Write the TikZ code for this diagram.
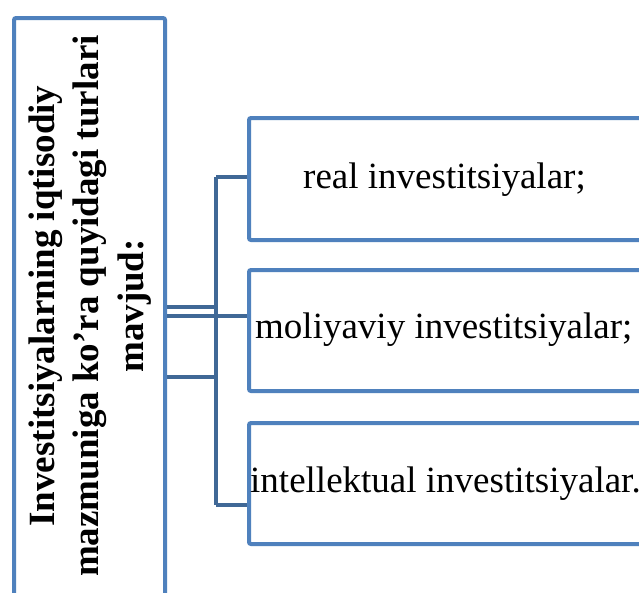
\documentclass[tikz,border=0pt]{standalone}
\usepackage{fontspec}
\setmainfont{Liberation Serif}
\definecolor{boxblue}{RGB}{79,129,189}
\definecolor{linkblue}{RGB}{64,104,150}
\tikzset{
  frame/.style={draw=boxblue, line width=4pt, rounded corners=2pt, fill=white, inner sep=0pt},
  link/.style={draw=linkblue, line width=4pt},
  title/.style={font=\fontsize{37}{44.5}\selectfont\bfseries, align=center, inner sep=0pt},
  item/.style={font=\fontsize{37}{42}\selectfont, inner sep=0pt, anchor=base west}
}
\begin{document}
\begin{tikzpicture}[x=1pt,y=-1pt]
\useasboundingbox (0,0) rectangle (639,592);
\clip (0,0) rectangle (639,592);
\fill[white] (0,0) rectangle (639,592);

% bus junctions
\coordinate (j1) at (216,307);
\coordinate (j2) at (216,316);
\coordinate (j3) at (216,377);
\coordinate (top) at (216,177);
\coordinate (bot) at (216,505);

% connectors
\draw[link] (top) -- (bot);
\draw[link] (j1) -- (163,307) coordinate (m1);
\draw[link] (j3) -- (163,377) coordinate (m3);

% boxes
\node[frame, minimum width=151, minimum height=580, anchor=north west] (main) at (12,16) {};
\node[frame, minimum width=440, minimum height=122, anchor=north west] (b1) at (247,116) {};
\node[frame, minimum width=440, minimum height=121, anchor=north west] (b2) at (247,268) {};
\node[frame, minimum width=440, minimum height=121, anchor=north west] (b3) at (247,421) {};

\draw[link] (top) -- (top -| b1.west);
\draw[link] (j2 -| main.east) -- (j2 -| b2.west);
\draw[link] (bot) -- (bot -| b3.west);

% texts
\node[title, rotate=90] (ttl) at (90,306)
  {Investitsiyalarning iqtisodiy\\mazmuniga ko'ra quyidagi turlari\\mavjud:};
\node[item] (t1) at (303,188) {real investitsiyalar;};
\node[item] (t2) at (255,338) {moliyaviy investitsiyalar;};
\node[item] (t3) at (250,492) {intellektual investitsiyalar.};
\end{tikzpicture}
\end{document}
